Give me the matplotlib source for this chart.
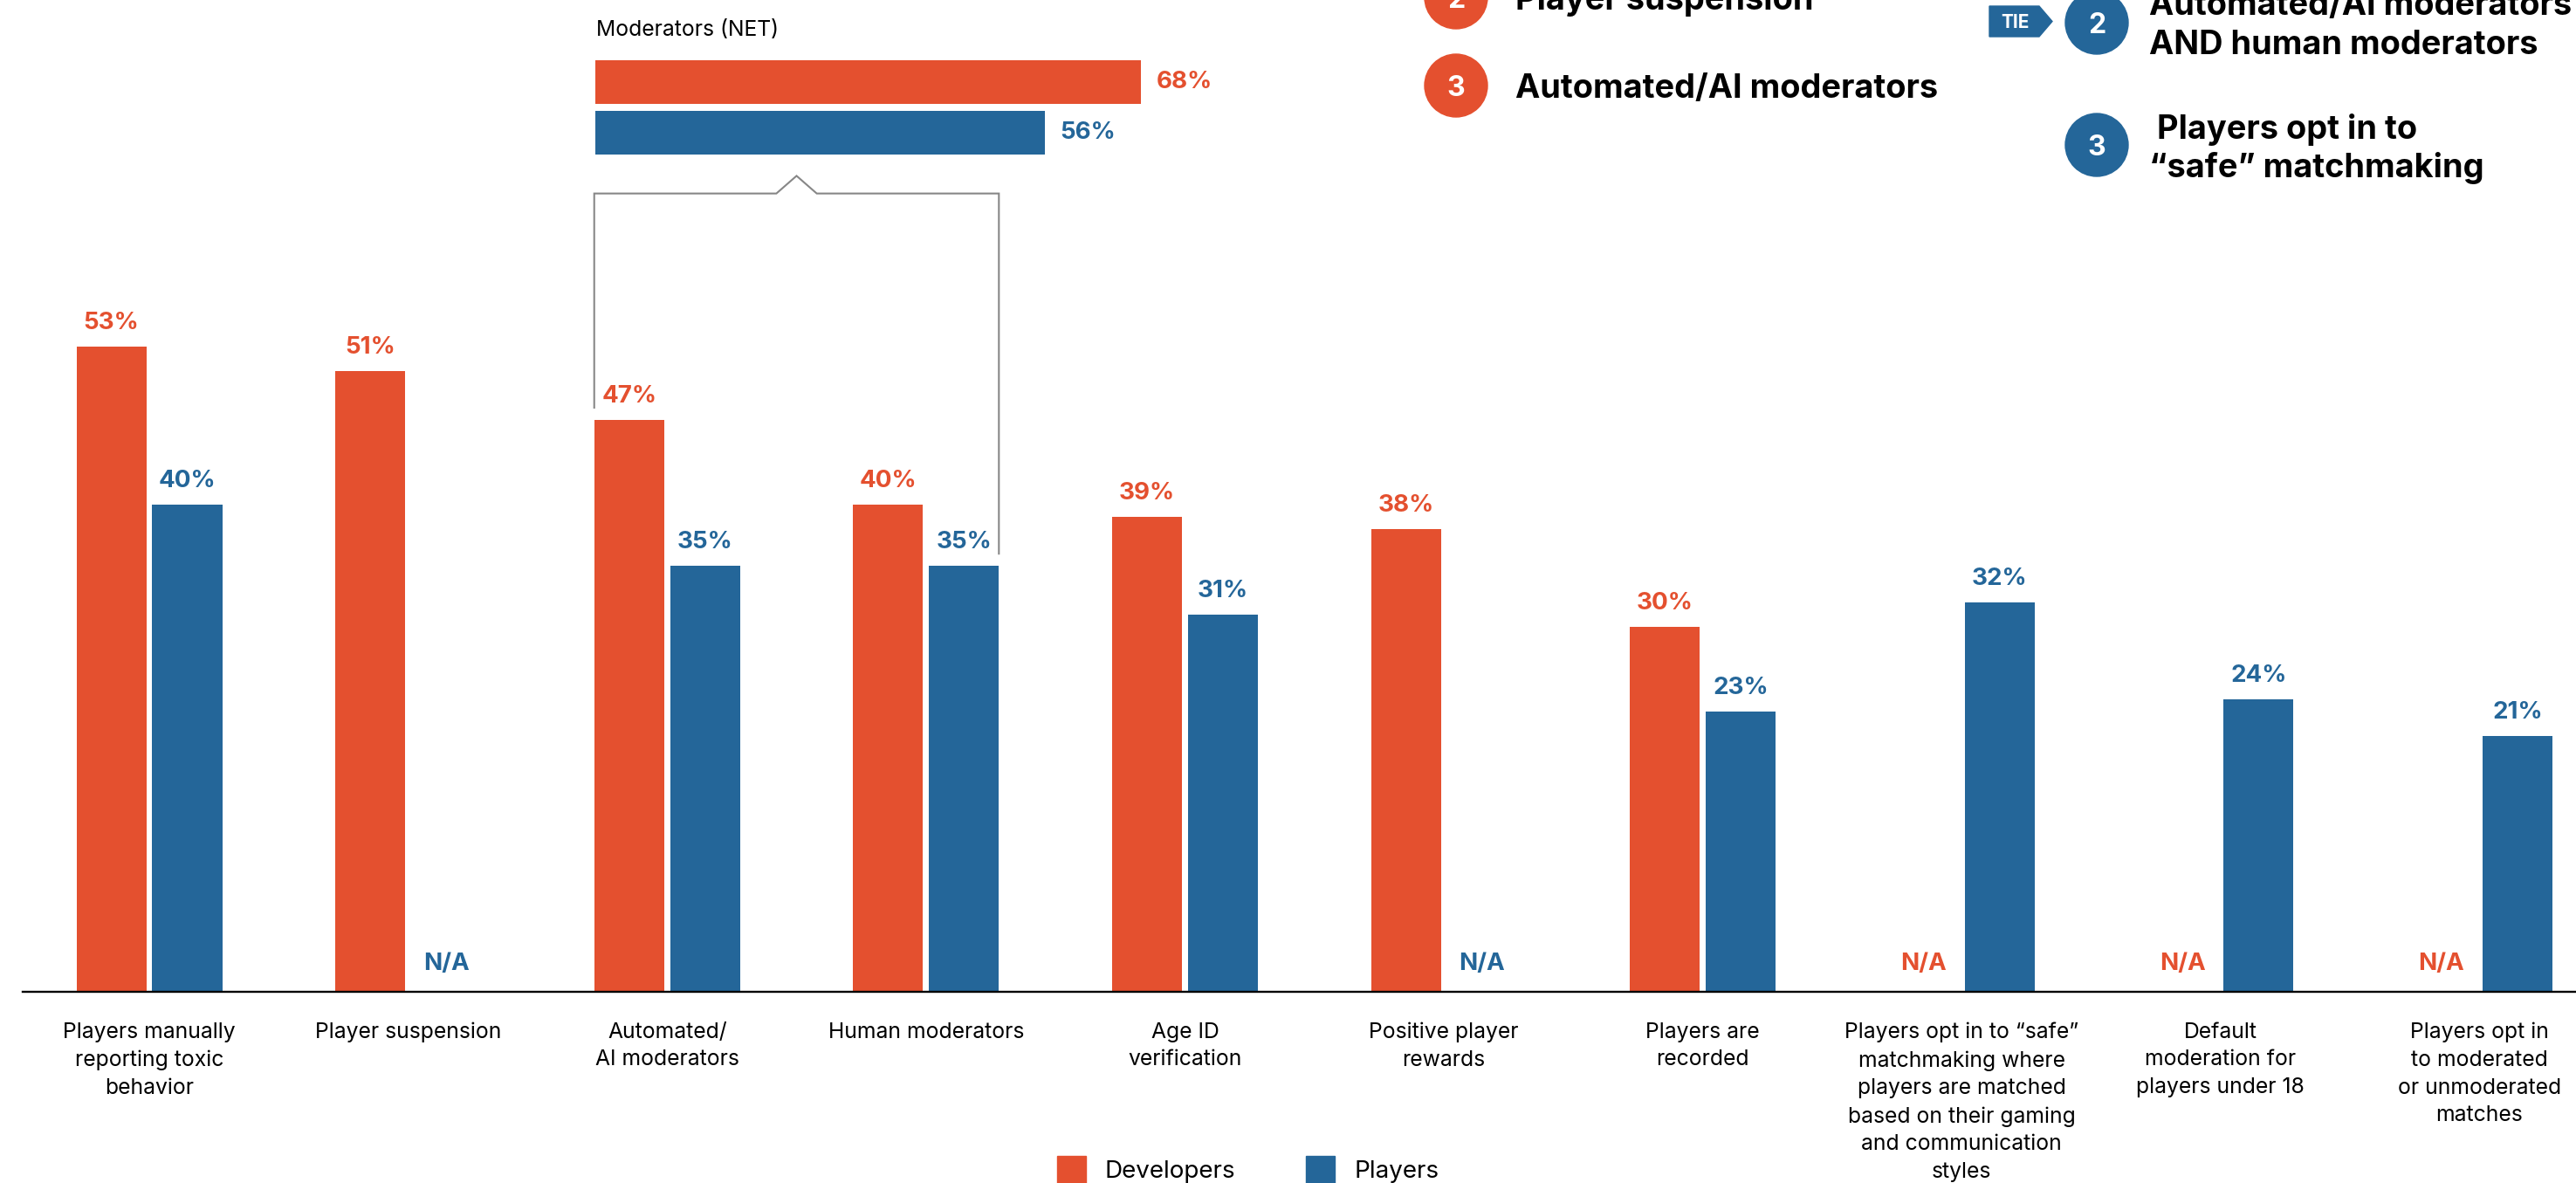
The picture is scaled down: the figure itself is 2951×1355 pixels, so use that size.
import matplotlib
matplotlib.use("Agg")
import matplotlib.pyplot as plt
from matplotlib.patches import Circle, Polygon, Rectangle
from matplotlib.lines import Line2D
import numpy as np

plt.rcParams['font.family'] = ['Inter', 'DejaVu Sans']

# ---- data -------------------------------------------------------------
categories = [
    "Players manually\nreporting toxic\nbehavior",
    "Player suspension",
    "Automated/\nAI moderators",
    "Human moderators",
    "Age ID\nverification",
    "Positive player\nrewards",
    "Players are\nrecorded",
    "Players opt in to \u201csafe\u201d\nmatchmaking where\nplayers are matched\nbased on their gaming\nand communication\nstyles",
    "Default\nmoderation for\nplayers under 18",
    "Players opt in\nto moderated\nor unmoderated\nmatches",
]
developers = [53, 51, 47, 40, 39, 38, 30, None, None, None]
players = [40, None, 35, 35, 31, None, 23, 32, 24, 21]

net_title = "Moderators (NET)"
net_values = [68, 56]          # Developers, Players

series_names = ["Developers", "Players"]
dev_ranks = [("2", "Player suspension"), ("3", "Automated/AI moderators")]
player_ranks = [("2", ["Automated/AI moderators", "AND human moderators"]),
                ("3", [" Players opt in to", "\u201csafe\u201d matchmaking"])]

RED = "#E4502F"
BLUE = "#246699"
GRAY = "#878787"

# ---- figure -----------------------------------------------------------
W, H = 2951, 1355
DPI = 100
PT = 72 / DPI          # points per pixel
fig = plt.figure(figsize=(W / DPI, H / DPI), dpi=DPI)


def fx(px):
    return px / W


def fy(py):
    return 1 - py / H


# main grouped bar chart
ax = fig.add_axes([fx(26), fy(1136), 1 - fx(26), 1136 / H])
x = np.arange(len(categories))
bw = 0.27
off = 0.1465

dx = [xi - off for xi, v in zip(x, developers) if v is not None]
dv = [v for v in developers if v is not None]
px_ = [xi + off for xi, v in zip(x, players) if v is not None]
pv = [v for v in players if v is not None]
ax.bar(dx, dv, bw, color=RED, zorder=1)
ax.bar(px_, pv, bw, color=BLUE, zorder=1)

ax.set_xlim(-0.489, 9.373)
ax.set_ylim(0, 81.5)

for xs_, vals, col in ((x - off, developers, RED), (x + off, players, BLUE)):
    for xi, v in zip(xs_, vals):
        if v is None:
            ax.annotate("N/A", (xi, 0), xytext=(0, 25 * PT), textcoords="offset points",
                        ha="center", va="baseline", color=col, fontsize=20,
                        fontweight="bold")
        else:
            ax.annotate(f"{v}%", (xi, v), xytext=(0, 20 * PT), textcoords="offset points",
                        ha="center", va="baseline", color=col, fontsize=20,
                        fontweight="bold")

for s in ("top", "left", "right"):
    ax.spines[s].set_visible(False)
ax.spines["bottom"].set_linewidth(1.7)
ax.spines["bottom"].set_color("black")
ax.set_yticks([])
ax.set_xticks(x)
ax.set_xticklabels(categories, fontsize=17.8, linespacing=1.48)
ax.tick_params(axis="x", length=0, pad=25)
ax.patch.set_alpha(0)

# bracket grouping the two moderator categories
left_edge = 2 - off - bw / 2
right_edge = 3 + off + bw / 2
mid = (left_edge + right_edge) / 2
top = 65.6
ax.add_line(Line2D(
    [left_edge, left_edge, mid - 0.078, mid, mid + 0.078, right_edge, right_edge],
    [developers[2] + 1, top, top, top + 1.45, top, top, players[3] + 1],
    color=GRAY, lw=1.5, clip_on=False, solid_joinstyle="miter"))

# NET horizontal bars
ax2 = fig.add_axes([fx(682), fy(181), 919 / W, 116 / H])
ax2.barh([0, 1], net_values, height=50 / 58, color=[RED, BLUE])
ax2.set_xlim(0, 100)
ax2.set_ylim(1.5, -0.5)
ax2.axis("off")
for i, (v, col) in enumerate(zip(net_values, [RED, BLUE])):
    ax2.annotate(f"{v}%", (v, i), xytext=(18 * PT, 0), textcoords="offset points",
                 ha="left", va="center", color=col, fontsize=20, fontweight="bold")

# overlay in pixel units for the rank callouts and legend
ov = fig.add_axes([0, 0, 1, 1], zorder=5)
ov.set_xlim(0, W)
ov.set_ylim(H, 0)
ov.axis("off")

ov.text(683, 41, net_title, fontsize=17.8, ha="left", va="baseline", color="black")

# developer ranks
for (num, label), cy in zip(dev_ranks, [-3, 98]):
    ov.add_patch(Circle((1668, cy), 36, color=RED))
    ov.text(1668, cy + 12, num, color="white", fontsize=23, fontweight="bold",
            ha="center", va="baseline")
    ov.text(1736, cy + 14, label, fontsize=27.3, fontweight="bold",
            ha="left", va="baseline", color="black")

# player ranks
ov.add_patch(Polygon([(2279, 7), (2336, 7), (2351, 24.5), (2336, 42), (2279, 42)],
                     closed=True, color=BLUE))
ov.text(2308, 32, "TIE", color="white", fontsize=15, fontweight="bold",
        ha="center", va="baseline")
for (num, lines), cy, bases in zip(player_ranks, [26, 166], [[17, 62], [159, 203]]):
    ov.add_patch(Circle((2402, cy), 36, color=BLUE))
    ov.text(2402, cy + 12, num, color="white", fontsize=23, fontweight="bold",
            ha="center", va="baseline")
    for line, b in zip(lines, bases):
        ov.text(2462, b, line, fontsize=27.3, fontweight="bold",
                ha="left", va="baseline", color="black")

# legend
for (name, col), sx, tx in zip(zip(series_names, [RED, BLUE]), [1211, 1496], [1266, 1551]):
    ov.add_patch(Rectangle((sx, 1324), 33, 33, color=col, clip_on=False))
    ov.text(tx, 1349, name, fontsize=20, ha="left", va="baseline", color="black")

fig.savefig("out.png", dpi=DPI, facecolor="white")
